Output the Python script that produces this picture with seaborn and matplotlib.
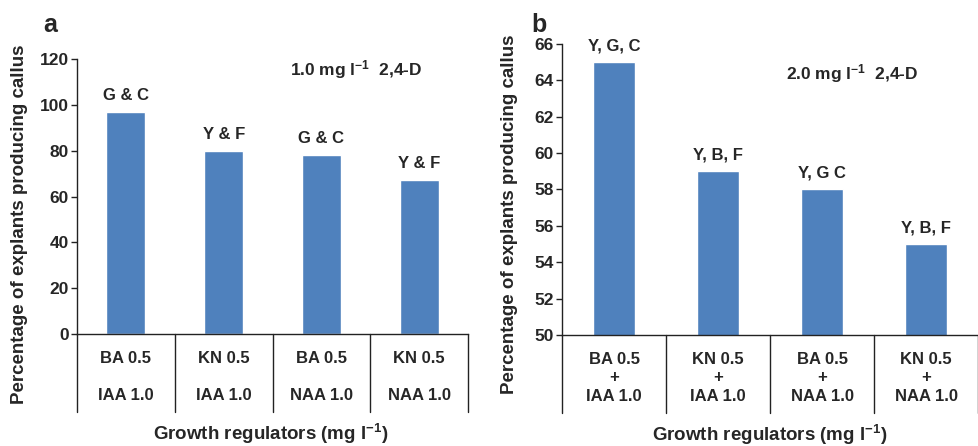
import numpy as np
import matplotlib
matplotlib.use("Agg")
import matplotlib.pyplot as plt
import seaborn as sns

# ---- data ----
cats_a = ["BA 0.5\n\nIAA 1.0", "KN 0.5\n\nIAA 1.0", "BA 0.5\n\nNAA 1.0", "KN 0.5\n\nNAA 1.0"]
vals_a = [97, 80, 78, 67]
notes_a = ["G & C", "Y & F", "G & C", "Y & F"]

cats_b = ["BA 0.5\n+\nIAA 1.0", "KN 0.5\n+\nIAA 1.0", "BA 0.5\n+\nNAA 1.0", "KN 0.5\n+\nNAA 1.0"]
vals_b = [65, 59, 58, 55]
notes_b = ["Y, G, C", "Y, B, F", "Y, G C", "Y, B, F"]

yticks_a = [0, 20, 40, 60, 80, 100, 120]
yticks_b = [50, 52, 54, 56, 58, 60, 62, 64, 66]

sns.set_style("ticks")
plt.rcParams["font.family"] = ["Liberation Sans", "DejaVu Sans"]
plt.rcParams["font.weight"] = "bold"
plt.rcParams["mathtext.fontset"] = "custom"
plt.rcParams["mathtext.bf"] = "Liberation Sans:bold"
plt.rcParams["mathtext.rm"] = "Liberation Sans:bold"
plt.rcParams["mathtext.default"] = "bf"

BLUE = "#4F81BD"
fig = plt.figure(figsize=(9.79, 4.46), dpi=100)
ax_a = fig.add_axes([0.0787, 0.2511, 0.3994, 0.6166])
ax_b = fig.add_axes([0.5741, 0.2489, 0.4249, 0.6525])


def panel(ax, cats, vals, notes, yticks, sep_bottom, conc, conc_xy, ylab_xy, xlab_xy):
    sns.barplot(x=cats, y=vals, color=BLUE, saturation=1, width=0.4, ax=ax)
    ax.set_ylim(yticks[0], yticks[-1])
    ax.set_xlim(-0.5, len(cats) - 0.5)
    ax.set_yticks(yticks)
    for spine in ["top", "right"]:
        ax.spines[spine].set_visible(False)
    for spine in ["left", "bottom"]:
        ax.spines[spine].set_color("#222222")
        ax.spines[spine].set_linewidth(1.0)
    ax.tick_params(axis="y", direction="out", length=4, width=1, labelsize=12.5, color="#222222", pad=2)
    ax.tick_params(axis="x", length=0, labelsize=12, pad=12)
    for t in ax.get_xticklabels():
        t.set_fontweight("bold")
        t.set_linespacing(1.32)
    for t in ax.get_yticklabels():
        t.set_fontweight("bold")
    # category separators below axis
    xs = np.arange(len(cats) + 1) - 0.5
    for x in xs:
        ax.plot([x, x], [0, sep_bottom], transform=ax.get_xaxis_transform(),
                color="#222222", lw=1.0, clip_on=False)
    for i, (v, n) in enumerate(zip(vals, notes)):
        ax.annotate(n, (i, v), xytext=(0, 6.5), textcoords="offset points",
                    ha="center", va="bottom", fontsize=12, fontweight="bold")
    ax.text(conc_xy[0], conc_xy[1], conc, transform=ax.transAxes, ha="left", va="center",
            fontsize=12.5, fontweight="bold")
    ax.set_ylabel("Percentage of explants producing callus", fontsize=13.5, fontweight="bold")
    ax.yaxis.set_label_coords(*ylab_xy)
    ax.set_xlabel(r"Growth regulators (mg l$^{-1}$)", fontsize=13.5, fontweight="bold")
    ax.xaxis.label.set_va("center")
    ax.xaxis.set_label_coords(*xlab_xy)


panel(ax_a, cats_a, vals_a, notes_a, yticks_a, -0.284,
      r"1.0 mg l$^{-1}$  2,4-D", (0.545, 0.96), (-0.125, 0.40), (0.494, -0.365))
panel(ax_b, cats_b, vals_b, notes_b, yticks_b, -0.268,
      r"2.0 mg l$^{-1}$  2,4-D", (0.538, 0.90), (-0.106, 0.416), (0.50, -0.343))

fig.text(0.044, 0.928, "a", fontsize=18, fontweight="bold", va="baseline")
fig.text(0.543, 0.928, "b", fontsize=18, fontweight="bold", va="baseline")

fig.savefig("out.png", dpi=100)
